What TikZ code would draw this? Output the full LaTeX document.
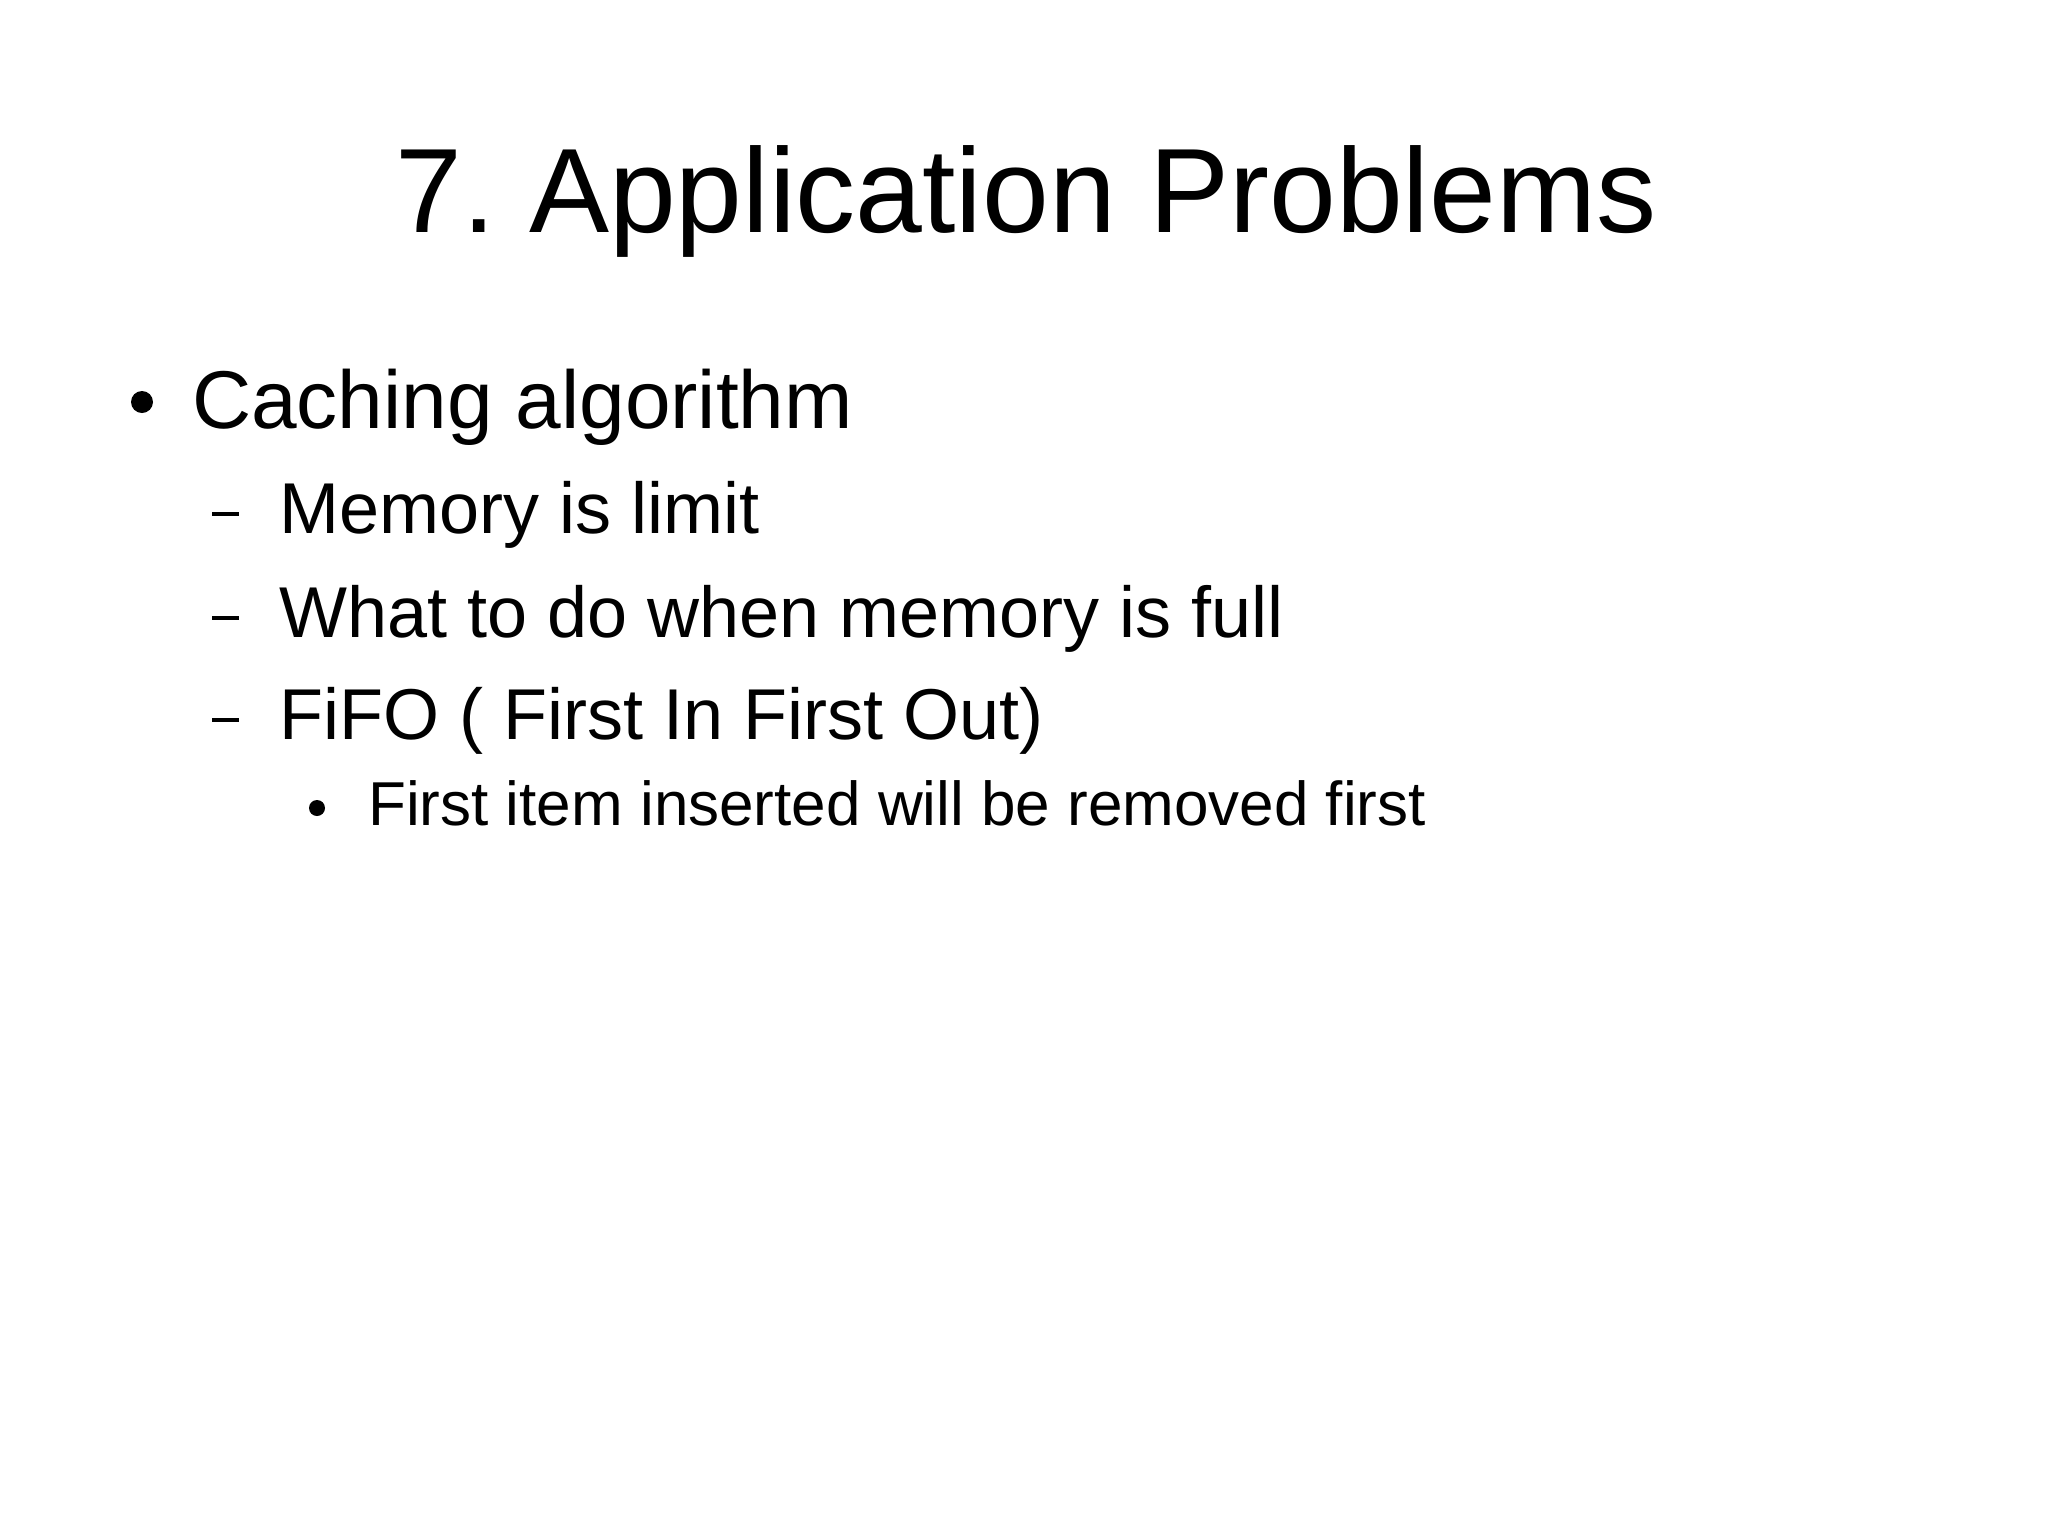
\documentclass[tikz,border=0pt]{standalone}
\usepackage{fontspec}
\setmainfont{Liberation Sans}
\frenchspacing
\begin{document}
\begin{tikzpicture}[x=1pt,y=1pt,
  txt/.style={anchor=base west,inner sep=0pt},
  lone/.style={txt,font=\fontsize{82}{90}\selectfont},
  ltwo/.style={txt,font=\fontsize{72}{80}\selectfont},
  lthree/.style={txt,font=\fontsize{62}{72}\selectfont}]
\fill[white] (0,0) rectangle (2048,-1535);
\useasboundingbox (0,0) rectangle (2048,-1535);
\node[anchor=base,inner sep=0pt,font=\fontsize{120}{140}\selectfont] (title) at (1026,-232) {7. Application Problems};
\fill (142,-402) circle (11) coordinate (b1);
\node[lone] (t1) at (192,-428) {Caching algorithm};
\fill (212,-512) rectangle (239,-516) coordinate (d1);
\node[ltwo] (t2) at (279,-533) {Memory is limit};
\fill (212,-616) rectangle (239,-620) coordinate (d2);
\node[ltwo] (t3) at (279,-637) {What to do when memory is full};
\fill (212,-718) rectangle (239,-722) coordinate (d3);
\node[ltwo] (t4) at (279,-739) {FiFO ( First In First Out)};
\fill (317,-808) circle (8) coordinate (b2);
\node[lthree] (t5) at (368,-825) {First item inserted will be removed first};
\end{tikzpicture}
\end{document}
